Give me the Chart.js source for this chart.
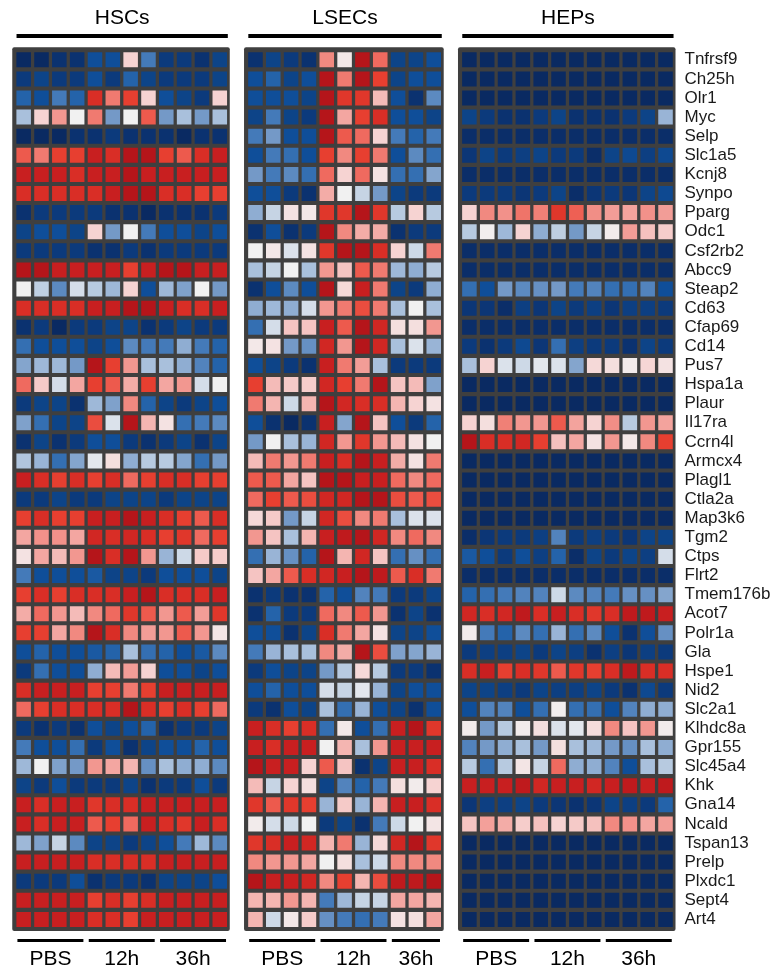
<!DOCTYPE html>
<html><head><meta charset="utf-8">
<script src="https://cdn.jsdelivr.net/npm/chart.js@4"></script>
<style>html,body{margin:0;padding:0;background:#fff;}#wrap{position:relative;width:776px;height:971px;}</style>
</head><body><div id="wrap"><canvas id="c" width="776" height="971"></canvas></div>
<script>
const genes = ['Tnfrsf9','Ch25h','Olr1','Myc','Selp','Slc1a5','Kcnj8','Synpo','Pparg','Odc1','Csf2rb2','Abcc9','Steap2','Cd63','Cfap69','Cd14','Pus7','Hspa1a','Plaur','Il17ra','Ccrn4l','Armcx4','Plagl1','Ctla2a','Map3k6','Tgm2','Ctps','Flrt2','Tmem176b','Acot7','Polr1a','Gla','Hspe1','Nid2','Slc2a1','Klhdc8a','Gpr155','Slc45a4','Khk','Gna14','Ncald','Tspan13','Prelp','Plxdc1','Sept4','Art4'];
const panelNames = ['HSCs','LSECs','HEPs'];
const groupNames = ['PBS','12h','36h'];
const hscReplicates = [4,4,4];
const lsecReplicates = [4,4,3];
const hepReplicates = [4,4,4];
// scaled expression (-9 = lowest / dark blue, +9 = highest / dark red)
const hscValues = [
[-9,-9,-8,-8,-5,-5,1,-3,-7,-7,-8,-6],
[-7,-6,-7,-7,-5,-7,-4,-6,-7,-7,-7,-6],
[-4,-5,-3,-4,7,4,6,1,-5,-6,-7,1],
[-1,1,3,0,4,-2,0,5,-2,-1,-2,-1],
[-9,-9,-9,-8,-8,-7,-8,-8,-8,-9,-8,-8],
[5,4,6,6,8,7,9,9,6,5,7,8],
[8,8,8,7,8,8,9,8,8,8,8,8],
[7,7,7,7,7,8,9,9,7,7,6,6],
[-8,-7,-7,-7,-7,-8,-8,-9,-8,-8,-8,-7],
[-6,-5,-5,-6,1,-2,0,-3,-5,-5,-6,-5],
[-7,-7,-7,-7,-8,-8,-7,-8,-7,-7,-7,-7],
[9,9,8,8,8,8,6,8,9,9,8,8],
[0,-0.7,-2.5,-0.4,-0.8,-1.2,1,-5,-1.2,-1.8,0,-2],
[7,7,7,7,8,8,9,9,8,7,7,8],
[-8,-7,-9,-7,-7,-6,-6,-8,-7,-6,-7,-7],
[-3.5,-5,-5,-5,-6,-5,-2.5,-3,-3,-1.5,-3,-4],
[-1.7,-1.2,-1.2,-2,9,6,3,-1,-1,-1.5,-2.7,-4],
[4.5,1.3,-0.4,2.5,6,5,2.3,6,2.5,3,-0.4,0],
[-7,-6,-6,-8,-1.2,-1.8,3.5,-4,-6,-7,-6,-5],
[-1.8,-3.5,-6,-6,5.5,-0.3,9,2,0.5,-3.5,-3,-2.5],
[-8,-6,-8,-7,-5,-5,-7,-8,-7,-6,-8,-6],
[-0.9,-1.3,-3.5,-1.7,-0.2,0.6,-1.5,-0.8,-0.8,-1.7,-3.5,-2],
[8,7,6,7,6,7,4.5,6,7,7,6,6],
[-7,-7,-6,-7,-7,-6,-6,-6,-7,-6,-6,-6],
[6,7,6,6,8,8,9,8,7,6,5,7],
[2.5,3.2,3.2,2.5,7.5,7,7.5,7,6,6.5,4.5,6],
[0.5,2.5,1.8,3,9,7,9,3,-1.3,-0.5,1.3,1.2],
[-3,-5,-5,-5,-4.5,-6,-6,-7,-5,-5,-5,-6],
[6,7,6,7,7,7,8,9,7,7,7,8],
[2.3,4.5,3,1.8,3.5,4.5,6.5,5,3,5,2.8,6.5],
[6,6,2.5,3.5,9,7,3.5,2.8,3,5,3,0.4],
[-5,-4,-5,-5,-4.5,-4,-1,-3.5,-4,-5,-4.5,-2.5],
[-7,-3.5,-5,-5,-1.5,1.8,2.8,1,-5,-5,-6,-5],
[7,8,8,8,6,6,4,6,8,8,8,8],
[4.5,6,7,7,7,7,9,7,6,7,6,4.5],
[-7,-8,-7,-8,-5,-6,-5,-4,-8,-7,-7,-6],
[-3,-5,-5,-3.5,-7,-5,-8,-6,-5,-5,-4,-5],
[-1.2,0,-1.8,-2,3,2.5,2,-2.3,-1,-1.5,-1.5,-2.5],
[-6,-7,-5,-7,-7,-7,-6,-8,-7,-7,-5,-7],
[8,7,8,8,6.5,7,7,8,8,8,8,8],
[8,7,8,8,5,6,4.5,8,7,6.5,8,7],
[-1.2,-1.8,-0.6,-2.5,-6,-6,-7,-6,-5,-3,-1.2,-2.5],
[8,8,8,8,7,7,7,7,8,8,8,8],
[-7,-7,-7,-5,-8,-7,-7,-8,-6,-6,-6,-5],
[8,8,8,8,6,7,6,7,8,8,8,8],
[8,8,8,8,7,7,6,8,8,8,8,8]
];
const lsecValues = [
[-8,-6,-7,-8,3.5,0.3,9,4.5,-6,-6,-5],
[-5,-4,-6,-5,9,4,9,6,-6,-5,-5],
[-5,-5,-5,-6,9,6.5,6.5,1.8,-5,-8,-2.5],
[-6,-3,-6,-7,9,2.5,6,7,-5,-5,-6],
[-3,-2,-5,-5,9,5,4.5,1,-3,-4,-3],
[-5,-3,-3.5,-5,6,3.5,6,4,-5,-2.5,-3.5],
[-2,-3,-2.5,-3.5,4.5,1,4.5,0.5,-3.5,-3.5,-1.7],
[-5,-5,-7,-8,2.3,0,-0.6,-2,-6,-7,-7],
[-1.5,-0.6,0.5,0.3,6.5,6.5,9,6.5,-0.8,1,-0.8],
[-8,-5,-8,-7,9,3.5,2.3,2.3,-8,-7,-7],
[0,0.3,-0.3,0.5,6.5,9,9,7,1,-0.5,4],
[-1,-0.6,0,-1,3,1.5,5,4,-1.2,-1.5,-0.8],
[-8,-5,-2.5,-5,9,0.8,8,4,-6,-7,-1.5],
[-1.5,-1.2,-1.5,-0.4,3,4,5.5,4,-1,0,-1],
[-3.5,-0.4,1.5,1.5,8,5,9,7.5,0.6,0.6,3],
[0.3,0.5,-2,-2.3,7.5,3,9,7.5,-1,-0.3,-1.3],
[-5,-6,-7,-8,8,4,2.8,-1,-7,-7,-7],
[6,1.8,1.3,1.2,7.5,6,4,9,1.5,1.8,-1.8],
[4,2,-0.5,2,9,7.5,7,7,2,1,0.5],
[-5,-8,-9,-8,8,-1.7,9,1.5,-5,-7,-4],
[-2,0,-1,-1.3,7.5,3,6.5,3,1.8,0.5,0],
[1.8,4,3,4,8,7,9,8,2.3,0.5,4],
[5,5,2.5,1.5,9,9,8,8,4.5,3.5,4.5],
[4.5,6,5,5.5,7.5,7.5,9,9,5.5,5,5.5],
[0.8,1.3,-2,-0.6,7.5,5.5,3.5,4,-1,-0.3,-0.3],
[3,1.5,-1,2,8,8.5,9,7.5,3.5,4.5,3.5],
[-3.5,-1.3,-2.3,-4,9,2,7.5,1.5,-3.5,-2.3,-3.5],
[1.5,2.5,5,7,7.5,8,9,8.5,5,7,4],
[-8,-7,-8,-8,-4,-5,-2.7,-3,-7,-7,-6],
[-8,-4,-7,-7,4.5,3.5,5,3,-8,-6,-8],
[-5,-5,-8,-6,7,4,2.5,0.5,-6,-6,-5],
[-3,-1.3,-1,-1,3.5,2.3,9,5.5,-1.8,-1.7,-1.3],
[-7,-5,-6,-6,-2,-0.8,0.8,-0.8,-7,-7,-8],
[-5,-4,-5,-5,-0.4,-0.6,-0.2,-1.3,-6,-5,-5],
[-7,-8,-5,-6,-1,-3.5,-1.3,-5,-6,-8,-5],
[8,7,6,7,-3.5,0.3,-5,-3.5,8,9,6.5],
[8,7,8,8,0,2,-1,3,8,8,8],
[9,8,8,1,5,1.5,-8,-6,8,8,7],
[1.8,-0.6,1,0.6,-6,-2.7,-4,-3,0.6,0.2,1],
[6.5,5,6.5,6,-1.3,1.3,-1.3,2,8,8,7],
[0.2,-0.4,-0.5,0,-7,-6,-8,-3,-0.5,0,0.4],
[6.5,7,8,7.5,2,4,-1.3,0.8,7.5,9,6.5],
[3.5,3,3,2.5,0,0.6,-1,-0.5,3.5,3.5,3.5],
[9,8,8,7.5,3.5,6,2,5.5,8.5,8.5,9],
[2,2,3,2,-3,-1.2,-0.6,-0.6,2.5,2.5,2],
[2,-0.5,0.3,1.2,-2.3,-3,-3.5,-3,0.5,0.6,2.5]
];
const hepValues = [
[-9,-9,-9,-9,-9,-9,-9,-9,-9,-9,-9,-9],
[-9,-9,-9,-9,-9,-9,-9,-9,-9,-9,-9,-9],
[-9,-9,-9,-9,-9,-9,-9,-9,-9,-9,-9,-9],
[-6,-7,-8,-8,-7,-6,-8,-8,-8,-7,-6,-1.3],
[-8.5,-8.5,-8.5,-8.5,-8.5,-8.5,-8.5,-8.5,-8.5,-8.5,-8.5,-8.5],
[-7.5,-6,-7,-6.5,-6,-7,-7,-8.5,-6,-5.5,-6.5,-5.5],
[-8.5,-8.5,-8.5,-8.5,-8.5,-8.5,-8.5,-8.5,-8.5,-8.5,-8.5,-8.5],
[-7,-7,-7,-7.5,-7,-6,-8.5,-7.5,-7,-7.5,-6,-5.5],
[1,3.5,3.2,4.2,3.8,6.5,4.8,3.3,2.8,2.6,3.2,2.8],
[-0.8,0.1,-1.2,1,-1.5,-0.7,-2,-0.6,0.2,2.8,1.6,1.2],
[-8.5,-8.5,-8.5,-8.5,-8.5,-8.5,-8.5,-8.5,-8.5,-8.5,-8.5,-8.5],
[-8.5,-8.5,-8.5,-8.5,-8.5,-8.5,-8.5,-8.5,-8.5,-8.5,-8.5,-8.5],
[-3.5,-5,-2,-2.5,-2.3,-2,-3,-2.7,-3.5,-3.5,-2.7,-5],
[-7.5,-7.5,-8.5,-6.5,-7.5,-6,-7,-6.5,-7.5,-6.5,-6.5,-7],
[-8.5,-8.5,-8.5,-8.5,-8.5,-8.5,-8.5,-8.5,-8.5,-8.5,-8.5,-8.5],
[-7,-8,-7,-5.5,-7.5,-3.5,-6.5,-7,-7,-8,-6,-7],
[-1,1,-0.3,-0.5,-0.2,-0.3,-1.7,0.8,0.6,0.2,0.9,0.5],
[-9,-9,-9,-9,-9,-9,-9,-9,-9,-9,-9,-9],
[-9,-9,-9,-9,-9,-9,-9,-9,-9,-9,-9,-9],
[1,0.6,3.8,3,3,5,2.6,1,3.3,-0.8,3,2.6],
[9,7,7,7.5,6,1.6,2.5,0.5,3,0.3,3.5,6],
[-9,-9,-9,-9,-9,-9,-9,-9,-9,-9,-9,-9],
[-9,-9,-9,-9,-9,-9,-9,-9,-9,-9,-9,-9],
[-9,-9,-9,-9,-9,-9,-9,-9,-9,-9,-9,-9],
[-9,-9,-9,-9,-9,-9,-9,-9,-9,-9,-9,-9],
[-8.5,-7.5,-7,-7,-6.5,-2.7,-7,-6.5,-7,-7.5,-6,-6],
[-4.5,-5,-7,-5,-6.5,-4,-8.5,-6,-7,-6,-6.5,-0.4],
[-8.5,-8.5,-8.5,-8.5,-8.5,-8.5,-8.5,-8.5,-8.5,-8.5,-8.5,-8.5],
[-4,-3.5,-3,-2.7,-2.7,-0.5,-2.5,-2.7,-3,-2.3,-2.3,-1.7],
[7.5,7,7.5,8.5,7,8,7,6.5,7,8.5,8.5,8],
[0.2,-3,-4,-2.5,-3.5,-1.3,-3.5,-2.5,-5,-8,-5,-2.3],
[-7,-6.5,-6.5,-6,-7,-6,-6.5,-8,-6.5,-7.5,-6.5,-7],
[7,8,6,7,6.5,5,6.5,6,7,8.5,7,7],
[-6,-6,-6.5,-7,-6,-6.5,-6.5,-6,-7,-8,-5.5,-7],
[-5,-2.7,-2.7,-5,-3.5,0.1,-3.5,-3.5,-5,-2.7,-1.5,-1.5],
[0.2,-2,-0.8,0.2,0.6,-0.3,-0.2,0.7,3.5,1.5,3,0.2],
[-2.7,-2,-1.5,-1,-2,0.6,-1,-1.2,-2,-2.3,-1,-1.5],
[-0.8,-3.5,-0.8,0.4,-0.6,4.5,-1.5,-1.5,-2.7,-5,-1,-0.8],
[8,8,8,8.5,7.5,8,8,7.5,8,8.5,8,8.5],
[-7.5,-6.5,-6.5,-6,-7,-7.5,-8,-7.5,-6,-6.5,-7,-4],
[1.5,2.7,2.3,1.2,1.6,1,1.3,1.6,3.5,3.2,2.5,2.8],
[-9,-9,-9,-9,-9,-9,-9,-9,-9,-9,-9,-9],
[-9,-9,-9,-9,-9,-9,-9,-9,-9,-9,-9,-9],
[-9,-9,-9,-9,-9,-9,-9,-9,-9,-9,-9,-9],
[-9,-9,-9,-9,-9,-9,-9,-9,-9,-9,-9,-9],
[-9,-9,-9,-9,-9,-9,-9,-9,-9,-9,-9,-9]
];

// colour ramp from -9 to +9
const ramp = ['#0a2a62','#0b3270','#0c3a7c','#0d4488','#0f4e99','#2463aa','#447ab9','#7499c7','#a9c0dc','#f1f1f1','#f6d3d2','#f4b5b1','#f29790','#f07a70','#ed5a4d','#e73f30','#d92e26','#c81f20','#b5151a'];
function hex(h){return [parseInt(h.slice(1,3),16),parseInt(h.slice(3,5),16),parseInt(h.slice(5,7),16)];}
function colorOf(v){
  const t = Math.max(0, Math.min(18, v + 9));
  const i = Math.min(17, Math.floor(t)), f = t - i;
  const a = hex(ramp[i]), b = hex(ramp[i+1]);
  return 'rgb(' + a.map((c,k)=>Math.round(c + (b[k]-c)*f)).join(',') + ')';
}

const panels = [
  {name: panelNames[0], values: hscValues, reps: hscReplicates, start: 0},
  {name: panelNames[1], values: lsecValues, reps: lsecReplicates, start: 13},
  {name: panelNames[2], values: hepValues, reps: hepReplicates, start: 25}
];
const HALF = 0.408;
const datasets = [];
panels.forEach(p => {
  const nCols = p.values[0].length;
  for (let c = 0; c < nCols; c++) {
    const x = p.start + c;
    datasets.push({
      label: p.name + ' ' + (c+1),
      data: genes.map(() => [x - HALF, x + HALF]),
      backgroundColor: p.values.map(row => colorOf(row[c])),
      borderWidth: 0,
      grouped: false,
      categoryPercentage: 1,
      barPercentage: 0.785
    });
  }
});

const decor = {
  id: 'decor',
  beforeDatasetsDraw(chart) {
    const {ctx, chartArea: a, scales: {x}} = chart;
    ctx.save();
    ctx.fillStyle = '#3f3f3f';
    panels.forEach(p => {
      const n = p.values[0].length;
      const l = x.getPixelForValue(p.start - 0.64), r = x.getPixelForValue(p.start + n - 1 + 0.56);
      ctx.beginPath();
      if (ctx.roundRect) ctx.roundRect(l, a.top - 3, r - l, a.bottom - a.top + 5, 2); else ctx.rect(l, a.top - 3, r - l, a.bottom - a.top + 5);
      ctx.fill();
    });
    ctx.restore();
  },
  afterDraw(chart) {
    const {ctx, chartArea: a, scales: {x}} = chart;
    ctx.save();
    ctx.fillStyle = '#000';
    ctx.strokeStyle = '#000';
    panels.forEach(p => {
      const n = p.values[0].length;
      const l = x.getPixelForValue(p.start - 0.4), r = x.getPixelForValue(p.start + n - 1 + 0.45);
      ctx.fillRect(l, 34, r - l, 4);
      ctx.font = '21px "Liberation Sans", Arial, sans-serif';
      ctx.textAlign = 'center';
      ctx.textBaseline = 'middle';
      ctx.fillText(p.name, (l + r) / 2, 18);
      let c0 = p.start;
      p.reps.forEach((k, g) => {
        const gl = x.getPixelForValue(c0 - 0.35), gr = x.getPixelForValue(c0 + k - 1 + 0.35);
        ctx.fillRect(gl, 939, gr - gl, 3);
        ctx.font = '21px "Liberation Sans", Arial, sans-serif';
        ctx.fillText(groupNames[g], (gl + gr) / 2, 959);
        c0 += k;
      });
    });
    ctx.restore();
  }
};

new Chart(document.getElementById('c'), {
  type: 'bar',
  data: {labels: genes, datasets},
  options: {
    indexAxis: 'y',
    responsive: false,
    animation: false,
    layout: {padding: {top: 50.25, bottom: 42.05, left: 11.9, right: 0}},
    plugins: {legend: {display: false}, tooltip: {enabled: false}},
    scales: {
      x: {type: 'linear', min: -0.66, max: 36.56, display: false},
      y: {
        type: 'category', position: 'right', offset: true,
        grid: {display: false, drawTicks: false}, border: {display: false},
        ticks: {padding: 9, autoSkip: false, color: '#1a1a1a', font: {family: '"Liberation Sans", Arial, sans-serif', size: 17}},
        afterFit(s) { s.width = 100.5; }
      }
    }
  },
  plugins: [decor]
});
</script></body></html>
